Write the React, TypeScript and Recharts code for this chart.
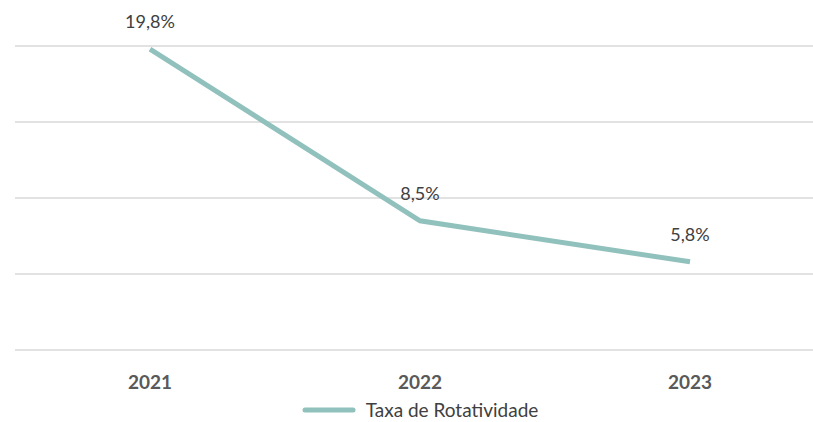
import React from "react";
import { LineChart, Line, XAxis, YAxis, CartesianGrid, Legend, LabelList } from "recharts";

const years = ["2021", "2022", "2023"];
const rates = [19.8, 8.5, 5.8];
const seriesName = "Taxa de Rotatividade";
const yTicks = [0, 5, 10, 15, 20];

const data = years.map((y, i) => ({ year: y, value: rates[i] }));

const FONT = "Lato, 'Open Sans', sans-serif";
const LINE_COLOR = "#91c1bc";

const fmt = (v: number) => v.toFixed(1).replace(".", ",") + "%";

const Tick = (props: any) => {
  const { x, y, payload } = props;
  return (
    <text x={x} y={y} textAnchor="middle" dominantBaseline="central" fill="#595959"
      style={{ fontFamily: FONT, fontSize: 19, fontWeight: 700 }}>
      {payload.value}
    </text>
  );
};

const LegendContent = () => (
  <div style={{ display: "flex", justifyContent: "center", alignItems: "center", fontFamily: FONT, fontSize: 19, color: "#404040", lineHeight: "22px" }}>
    <svg width={54} height={8} style={{ marginRight: 10 }}>
      <line x1={3} y1={4} x2={51} y2={4} stroke={LINE_COLOR} strokeWidth={5} strokeLinecap="round" />
    </svg>
    <span>{seriesName}</span>
  </div>
);

export default function App() {
  return (
    <div style={{ position: "fixed", left: 0, top: 0, width: 813, height: 422, overflow: "hidden", background: "#fff" }}>
      <LineChart width={825} height={422} data={data} margin={{ top: 46, right: 0, left: 15, bottom: 0 }}>
        <CartesianGrid vertical={false} stroke="#d9d9d9" strokeWidth={1.5} />
        <XAxis dataKey="year" axisLine={false} tickLine={false} tick={<Tick />} tickMargin={25}
          height={52} padding={{ left: 135, right: 135 }} />
        <YAxis hide domain={[0, 20]} ticks={yTicks} />
        <Legend verticalAlign="bottom" height={20} content={<LegendContent />} wrapperStyle={{ bottom: 3 }} />
        <Line type="linear" dataKey="value" name={seriesName} stroke={LINE_COLOR} strokeWidth={5}
          dot={false} activeDot={false} isAnimationActive={false}>
          <LabelList dataKey="value" position="top" offset={21} formatter={(v: any) => fmt(Number(v))}
            style={{ fontFamily: FONT, fontSize: 18, fill: "#404040" }} />
        </Line>
      </LineChart>
    </div>
  );
}
